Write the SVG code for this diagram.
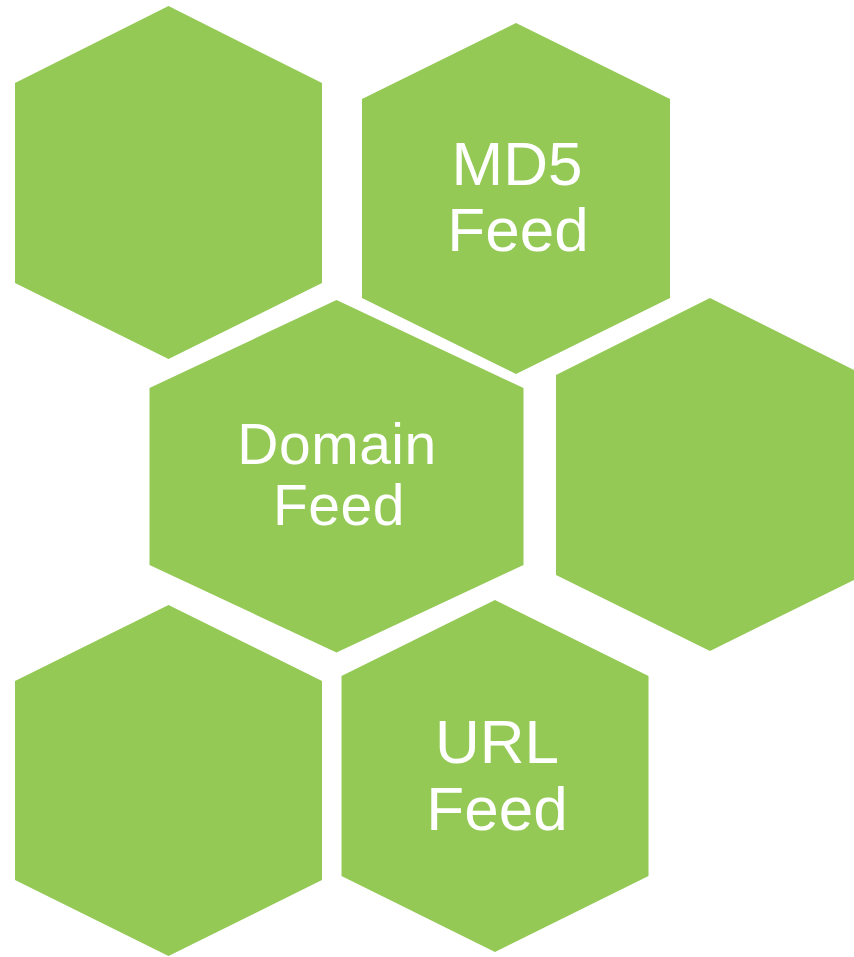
<svg xmlns="http://www.w3.org/2000/svg" width="854" height="957" viewBox="0 0 854 957">
  <style>
    .hex { fill: #93C954; }
    .label { fill: #FFFFFF; font-family: "Liberation Sans", Arial, sans-serif; text-anchor: middle; }
  </style>
  <rect width="854" height="957" fill="#FFFFFF"/>

  <g id="hex-top-left">
    <polygon class="hex" points="168.5,6 322,83 322,283 168.5,359 15,283 15,83"/>
  </g>

  <g id="hex-md5">
    <polygon class="hex" points="516,23 670,99 670,298 516,374 362,298 362,99"/>
    <text class="label" font-size="62" x="517" y="185">MD5</text>
    <text class="label" font-size="62" x="518" y="251">Feed</text>
  </g>

  <g id="hex-domain">
    <polygon class="hex" points="336.5,300 523.5,388 523.5,565 336.5,652.5 149.5,565 149.5,388"/>
    <text class="label" font-size="57" x="337" y="464" letter-spacing="0.5">Domain</text>
    <text class="label" font-size="57" x="339" y="525" letter-spacing="0.5">Feed</text>
  </g>

  <g id="hex-right">
    <polygon class="hex" points="710,298 864,375 864,575 710,651 556,575 556,375"/>
  </g>

  <g id="hex-bottom-left">
    <polygon class="hex" points="168.5,605 322,681 322,880 168.5,956 15,880 15,681"/>
  </g>

  <g id="hex-url">
    <polygon class="hex" points="495,600 648.5,676 648.5,876 495,952 341.5,876 341.5,676"/>
    <text class="label" font-size="62" x="497" y="763">URL</text>
    <text class="label" font-size="62" x="497" y="830">Feed</text>
  </g>

  <g id="connectors"/>
</svg>
